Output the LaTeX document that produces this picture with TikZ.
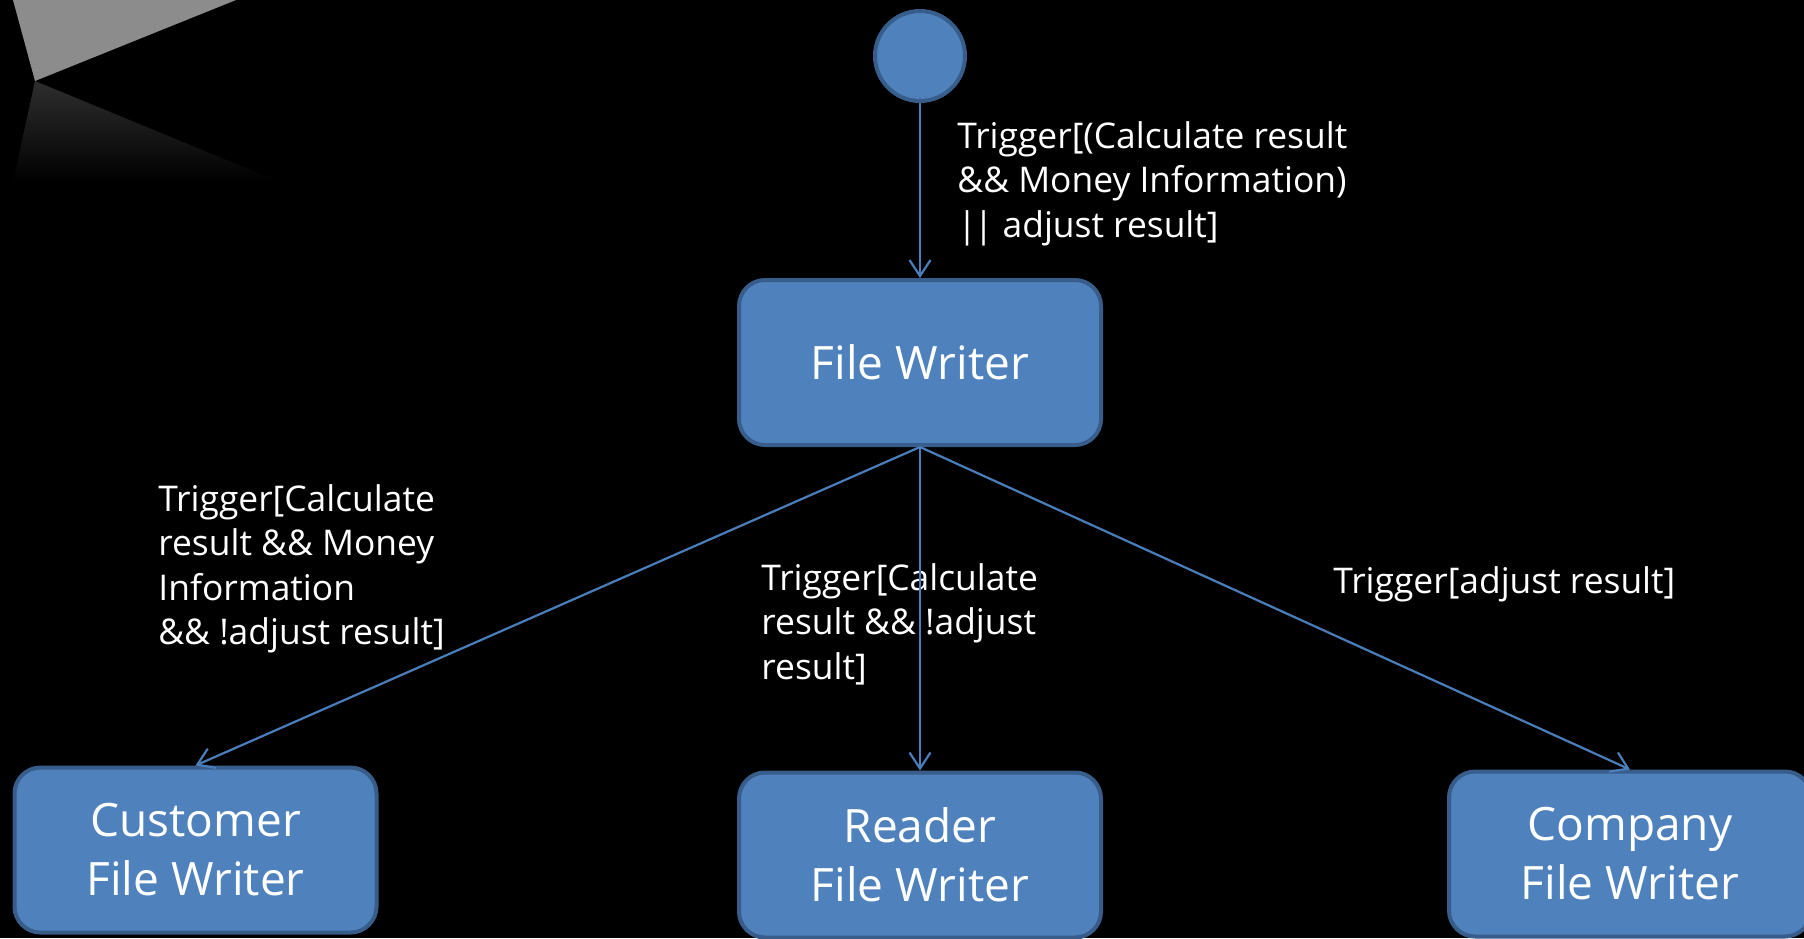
\documentclass[tikz,border=0pt]{standalone}
\usepackage{fontspec}
\setmainfont{Open Sans}
\usetikzlibrary{arrows.meta}
\definecolor{boxfill}{HTML}{4F81BD}
\definecolor{boxline}{HTML}{385D8A}
\definecolor{conn}{HTML}{4A7EBB}
\definecolor{decogray}{RGB}{140,140,140}
\definecolor{reflgray}{RGB}{46,46,46}
\begin{document}
\begin{tikzpicture}[x=0.5pt,y=-0.5pt,
  state/.style={draw=boxline, line width=2pt, fill=boxfill, rounded corners=13pt,
    minimum width=181pt, minimum height=82.5pt, inner sep=0pt, text=white,
    align=center, font=\fontsize{23}{29.5}\selectfont},
  initstate/.style={circle, draw=boxline, line width=2pt, fill=boxfill,
    minimum size=45pt, inner sep=0pt},
  trans/.style={draw=conn, line width=1.1pt, -{Straight Barb[length=8pt,width=10.5pt]}},
  guard/.style={text=white, align=left, anchor=north west, inner sep=0pt,
    font=\fontsize{17.7}{22.25}\selectfont}]
\fill[black] (0,0) rectangle (1804,938);
\useasboundingbox (0,0) rectangle (1804,938);
% decoration top left
\shade[top color=reflgray, bottom color=black] (35,81) -- (13,182) -- (280,182) -- cycle;
\fill[decogray] (13,0) -- (35,81) -- (236,0) -- cycle;
% states
\node[initstate] (init) at (920,56) {};
\node[state] (fw) at (920,362.5) {File Writer};
\node[state] (cust) at (195.5,850) {Customer\\File Writer};
\node[state] (reader) at (920,855) {Reader\\File Writer};
\node[state] (company) at (1630,854) {Company\\File Writer};
% guards
\node[guard] (g0) at (957,121) {Trigger[(Calculate result\\\&\& Money Information)\\|\kern-1.5pt| adjust result]};
\node[guard] (g1) at (158,484) {Trigger[Calculate\\result \&\& Money\\Information\\\&\& !adjust result]};
\node[guard] (g2) at (761,563) {Trigger[Calculate\\result \&\& !adjust\\result]};
\node[guard] (g3) at (1333,566) {Trigger[adjust result]};
% transitions
\draw[trans] (init) -- (fw);
\draw[trans] (fw.south) -- (cust.north);
\draw[trans] (fw.south) -- (reader.north);
\draw[trans] (fw.south) -- (company.north);
\end{tikzpicture}
\end{document}
